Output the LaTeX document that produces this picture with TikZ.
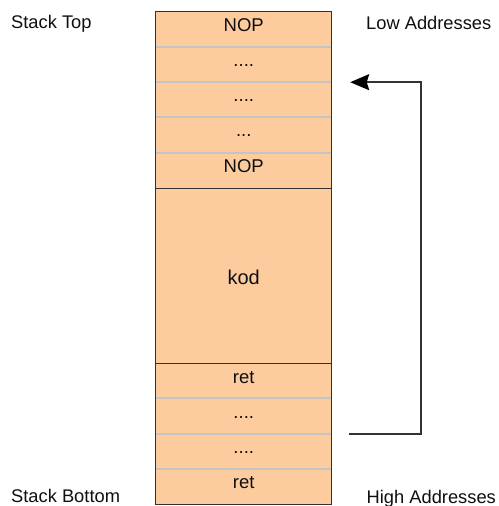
\documentclass[tikz,border=0pt]{standalone}
\usepackage{fontspec}
\setmainfont{Liberation Sans}
\usetikzlibrary{calc,arrows.meta}
\definecolor{peach}{RGB}{253,204,158}
\definecolor{divgray}{RGB}{196,196,196}
\definecolor{edgedark}{RGB}{50,50,50}
\definecolor{txt}{RGB}{15,15,15}
\begin{document}
\begin{tikzpicture}[x=1pt,y=1pt,
  row/.style={rectangle,fill=peach,draw=none,inner sep=0pt,minimum width=175.5pt},
  lbl/.style={inner sep=0pt,anchor=base,text=txt,font=\fontsize{18.5}{20}\selectfont},
  side/.style={inner sep=0pt,anchor=base west,text=txt,font=\fontsize{18.3}{20}\selectfont},
  graydiv/.style={draw=divgray,line width=1.6pt},
  blackdiv/.style={draw=edgedark,line width=1.3pt},
  outline/.style={draw=edgedark,line width=1.3pt},
  conn/.style={draw=edgedark,line width=1.6pt,-{Stealth[length=19pt,width=16pt,inset=2.5pt,fill=black,color=black]}}]
\useasboundingbox (0,0) rectangle (498,-506);
\fill[white] (0,0) rectangle (498,-506);
% rows
\node[row,minimum height=35pt]   (r1) at (243.75,-29.5) {};
\node[row,minimum height=35pt]   (r2) at (243.75,-64.5) {};
\node[row,minimum height=35pt]   (r3) at (243.75,-99.5) {};
\node[row,minimum height=35.5pt] (r4) at (243.75,-134.75) {};
\node[row,minimum height=35.5pt] (r5) at (243.75,-170.25) {};
\node[row,minimum height=175pt]  (r6) at (243.75,-275.5) {};
\node[row,minimum height=35pt]   (r7) at (243.75,-380.5) {};
\node[row,minimum height=36pt]   (r8) at (243.75,-416) {};
\node[row,minimum height=35pt]   (r9) at (243.75,-451.5) {};
\node[row,minimum height=35.5pt] (r10) at (243.75,-486.75) {};
% dividers
\foreach \r in {r1,r2,r3,r4,r7,r8,r9}
  \draw[graydiv] (\r.south west) -- (\r.south east);
\draw[blackdiv] (r5.south west) -- (r5.south east);
\draw[blackdiv] (r6.south west) -- (r6.south east);
\draw[outline] (r1.north west) rectangle (r10.south east);
% texts
\node[lbl] (t1) at ($(r1.center)+(0,-2)$) {NOP};
\node[lbl] (t2) at ($(r2.center)+(0,-1.5)$) {....};
\node[lbl] (t3) at ($(r3.center)+(0,-1.5)$) {....};
\node[lbl] (t4) at ($(r4.center)+(0,-1.5)$) {...};
\node[lbl] (t5) at ($(r5.center)+(0,-2)$) {NOP};
\node[lbl,font=\fontsize{20}{22}\selectfont] (t6) at ($(r6.center)+(0,-8.5)$) {kod};
\node[lbl] (t7) at ($(r7.center)+(0,-2.5)$) {ret};
\node[lbl] (t8) at ($(r8.center)+(0,-2)$) {....};
\node[lbl] (t9) at ($(r9.center)+(0,-1.5)$) {....};
\node[lbl] (t10) at ($(r10.center)+(0,-1.5)$) {ret};
% side labels
\node[side] (st) at (11,-28.5) {Stack Top};
\node[side] (la) at (366,-29) {Low Addresses};
\node[side] (sb) at (11,-502.5) {Stack Bottom};
\node[side] (ha) at (366.5,-503) {High Addresses};
% connector
\coordinate (as) at ($(r8.south east)+(17.5,0)$);
\coordinate (ae) at ($(r2.south east)+(18.5,0)$);
\draw[conn] (as) -- ++(72,0) |- (ae);
\end{tikzpicture}
\end{document}
